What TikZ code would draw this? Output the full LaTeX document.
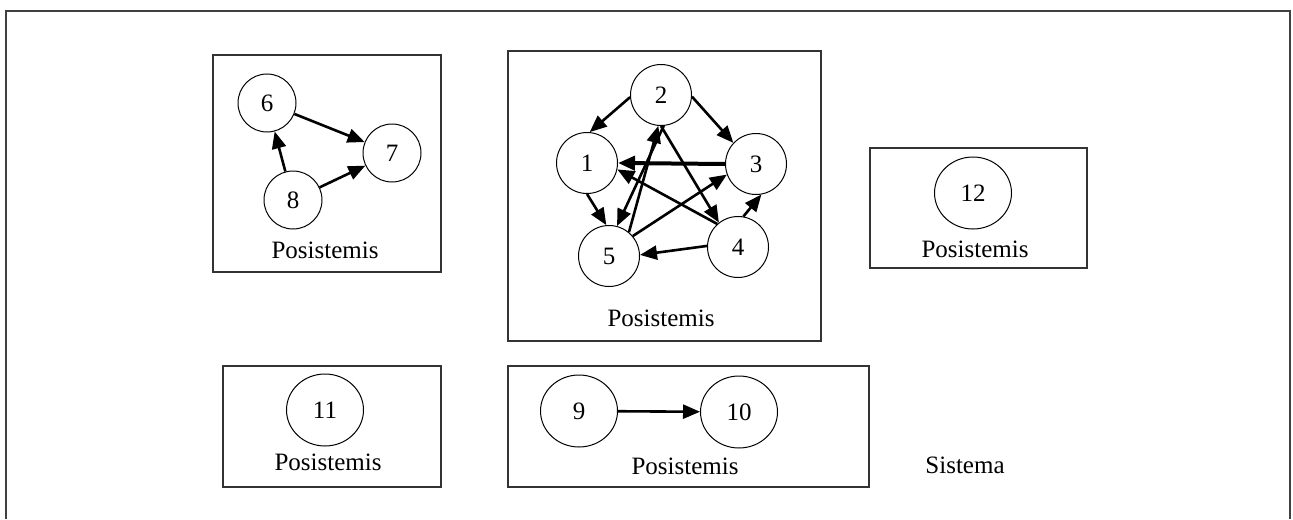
\documentclass[tikz,border=0pt]{standalone}
\usepackage{fontspec}
\setmainfont{Liberation Serif}
\usetikzlibrary{arrows.meta,shapes.geometric}
\tikzset{
  vertex/.style={draw, circle, line width=0.5pt, minimum size=29pt, inner sep=0pt,
    font=\fontsize{12.5}{14}\selectfont},
  midvertex/.style={vertex, minimum size=30.5pt},
  bigvertex/.style={vertex, ellipse, minimum width=38.5pt, minimum height=36pt},
  frame/.style={draw=black!80, line width=0.6pt},
  link/.style={line width=1.3pt, -{Triangle[length=8.5pt,width=7pt]}},
  caption/.style={font=\fontsize{12.5}{14}\selectfont}
}

\begin{document}
\begin{tikzpicture}[x=0.5pt, y=-0.5pt]
  \useasboundingbox (0,0) rectangle (1293,519);
  \draw [black!75, line width=0.8pt] (6,519) -- (6,11) -- (1290,11) -- (1290,519);
  % Subsystem boxes
  \draw [frame] (213,55) rectangle (441,272);
  \draw [frame] (508,51) rectangle (821,341);
  \draw [frame] (870,148) rectangle (1087,268);
  \draw [frame] (223,366) rectangle (441,487);
  \draw [frame] (508,366) rectangle (869,487);
  % Nodes
  \node [vertex] (n6) at (267,103) {6};
  \node [vertex] (n7) at (392,153) {7};
  \node [vertex] (n8) at (293,200) {8};
  \node [midvertex] (n2) at (661,95) {2};
  \node [midvertex] (n1) at (587,163) {1};
  \node [midvertex] (n3) at (756,164) {3};
  \node [midvertex] (n5) at (609,256) {5};
  \node [midvertex] (n4) at (738,247) {4};
  \node [bigvertex] (n12) at (973,193) {12};
  \node [bigvertex] (n11) at (325,410) {11};
  \node [bigvertex] (n9) at (579,411) {9};
  \node [bigvertex] (n10) at (739,412) {10};
  % Arrows
  \draw [link] (n6) -- (n7);
  \draw [link] (n8) -- (n7);
  \draw [link] (n8) -- (n6);
  \draw [link] (n2.184) -- (n1.85);
  \draw [link] (n2.-3) -- (n3.137);
  \draw [link, line width=2pt] (n3.180) -- (n1.0);
  \draw [link] (n4.132) -- (n1.-12);
  \draw [link] (n2.270) -- (n4.128);
  \draw [link] (n2.275) -- (n5.75);
  \draw [link] (n5.50) -- (n2.265);
  \draw [link] (n5.40) -- (n3.200);
  \draw [link] (n1.270) -- (n5.95);
  \draw [link] (n4.80) -- (n3.280);
  \draw [link] (n4.178) -- (n5.2);
  \draw [link] (n9) -- (n10);
  % Labels
  \node [caption] (capA) at (325,250) {Posistemis};
  \node [caption] (capB) at (661,318) {Posistemis};
  \node [caption] (capC) at (975,249) {Posistemis};
  \node [caption] (capD) at (328,462) {Posistemis};
  \node [caption] (capE) at (685,466) {Posistemis};
  \node [caption] (sys) at (965,465) {Sistema};
\end{tikzpicture}
\end{document}
